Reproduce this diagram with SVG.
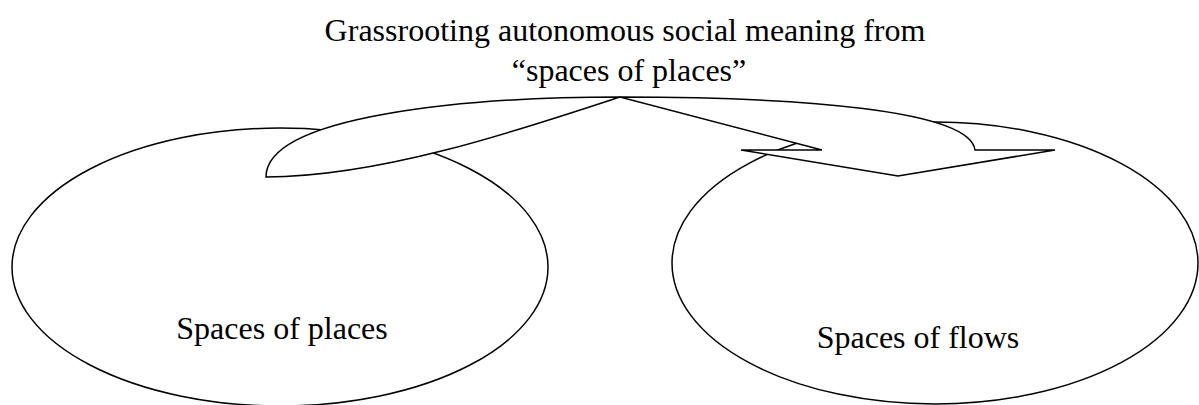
<svg xmlns="http://www.w3.org/2000/svg" width="1199" height="405" viewBox="0 0 1199 405">
<style>
.shape{fill:#ffffff;stroke:#000000;stroke-width:1.5;stroke-linejoin:miter}
.lbl{font-family:"Liberation Serif","Times New Roman",serif;font-size:32px;fill:#000000}
</style>
<rect x="0" y="0" width="1199" height="405" fill="#ffffff"/>
<g id="title">
<text class="lbl" x="625" y="41" text-anchor="middle">Grassrooting autonomous social meaning from</text>
<text class="lbl" x="629" y="81" text-anchor="middle">“spaces of places”</text>
</g>
<g id="places">
<ellipse class="shape" cx="280" cy="267" rx="268" ry="139"/>
<text class="lbl" x="282" y="339" text-anchor="middle">Spaces of places</text>
</g>
<g id="flows">
<ellipse class="shape" cx="935" cy="263" rx="263" ry="141"/>
<text class="lbl" x="918" y="348" text-anchor="middle">Spaces of flows</text>
</g>
<g id="connectors">
<path class="shape" d="M266,177 C266,115 470,97 620,97 C800,97 970,110 975,150 L1055,150 L898,176 L741,150 L822,150 L620,97 C520,130 380,177 266,177 Z"/>
</g>
</svg>
